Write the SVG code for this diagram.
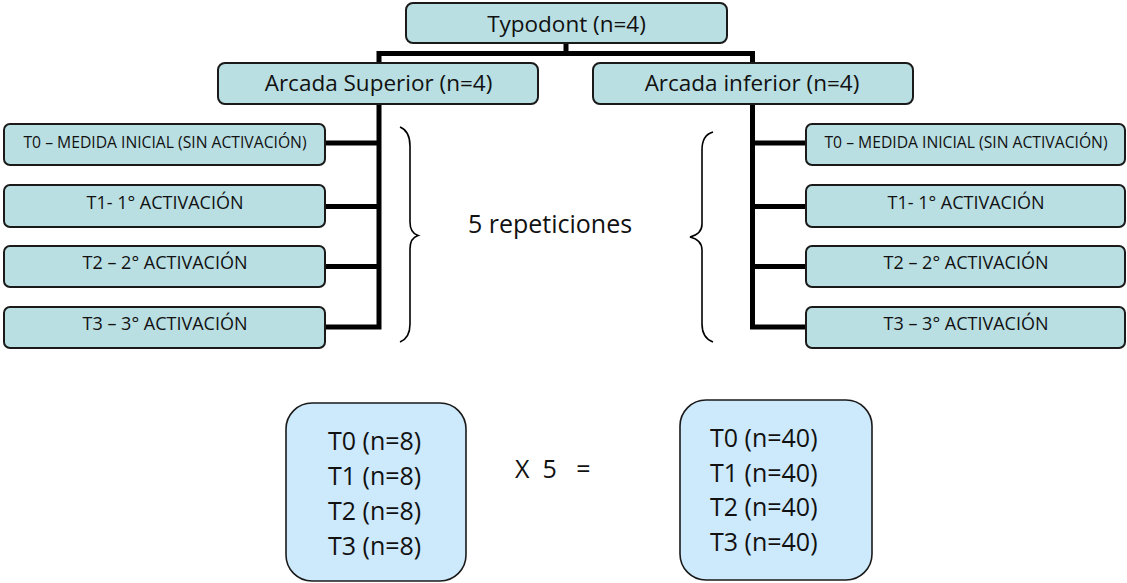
<svg xmlns="http://www.w3.org/2000/svg" width="1127" height="583" viewBox="0 0 1127 583">
<style>
  text { font-family: 'Open Sans', 'Liberation Sans', sans-serif; fill: #111; }
  .box { fill: #b9dfe3; stroke: #1a1a1a; stroke-width: 2; }
  .big { fill: #cde9fc; stroke: #1a1a1a; stroke-width: 1.6; }
  .t22 { font-size: 22.5px; text-anchor: middle; }
  .t18 { font-size: 18px; text-anchor: middle; }
  .t16 { font-size: 15.7px; text-anchor: middle; }
  .t25 { font-size: 25px; }
  .conn { stroke: #000; stroke-width: 5; fill: none; stroke-linejoin: miter; stroke-linecap: square; }
  .brace { stroke: #000; stroke-width: 1.6; fill: none; }
</style>
<rect width="1127" height="583" fill="#fff"/>

<g id="connectors">
  <path class="conn" d="M566,44 V53.5 M379,62 V53.5 H752.5 V62"/>
  <path class="conn" d="M379,105 V327 M327,143 H379 M327,206.5 H379 M327,266.5 H379 M327,327 H379"/>
  <path class="conn" d="M752.5,105 V327 M752.5,143 H804 M752.5,206.5 H804 M752.5,266.5 H804 M752.5,327 H804"/>
</g>

<g id="typodont">
  <rect class="box" x="406" y="3" width="321" height="40" rx="7"/>
  <text class="t22" x="566.5" y="32">Typodont (n=4)</text>
</g>
<g id="arcada-superior">
  <rect class="box" x="218" y="63" width="320" height="41" rx="7"/>
  <text class="t22" x="378.5" y="91">Arcada Superior (n=4)</text>
</g>
<g id="arcada-inferior">
  <rect class="box" x="593" y="63" width="320" height="41" rx="7"/>
  <text class="t22" x="752" y="91">Arcada inferior (n=4)</text>
</g>

<g id="sup-t0">
  <rect class="box" x="4" y="124" width="321" height="41" rx="6"/>
  <text class="t16" x="165" y="147.5">T0 – MEDIDA INICIAL (SIN ACTIVACIÓN)</text>
</g>
<g id="sup-t1">
  <rect class="box" x="4" y="185" width="321" height="42" rx="6"/>
  <text class="t18" x="165" y="208.5">T1- 1° ACTIVACIÓN</text>
</g>
<g id="sup-t2">
  <rect class="box" x="4" y="246" width="321" height="41" rx="6"/>
  <text class="t18" x="165" y="268.5">T2 – 2° ACTIVACIÓN</text>
</g>
<g id="sup-t3">
  <rect class="box" x="4" y="307" width="321" height="41" rx="6"/>
  <text class="t18" x="165" y="329.5">T3 – 3° ACTIVACIÓN</text>
</g>

<g id="inf-t0">
  <rect class="box" x="806" y="124" width="319" height="41" rx="6"/>
  <text class="t16" x="966" y="147.5">T0 – MEDIDA INICIAL (SIN ACTIVACIÓN)</text>
</g>
<g id="inf-t1">
  <rect class="box" x="806" y="185" width="319" height="42" rx="6"/>
  <text class="t18" x="966" y="208.5">T1- 1° ACTIVACIÓN</text>
</g>
<g id="inf-t2">
  <rect class="box" x="806" y="246" width="319" height="41" rx="6"/>
  <text class="t18" x="966" y="268.5">T2 – 2° ACTIVACIÓN</text>
</g>
<g id="inf-t3">
  <rect class="box" x="806" y="307" width="319" height="41" rx="6"/>
  <text class="t18" x="966" y="329.5">T3 – 3° ACTIVACIÓN</text>
</g>

<g id="braces">
  <path class="brace" d="M400,127 Q410,131 410,146 V222 Q410,233 418,235.5 Q410,238 410,249 V324 Q410,338 400,342"/>
  <path class="brace" d="M713,132 Q702,135 702,150 V224 Q702,234 690,237 Q702,240 702,250 V324 Q702,338 713,342"/>
</g>

<g id="repeticiones">
  <text class="t25" x="550" y="233" text-anchor="middle">5 repeticiones</text>
</g>

<g id="total-antes">
  <rect class="big" x="286" y="403" width="180" height="178" rx="26"/>
  <text class="t25" x="328" y="450">T0 (n=8)</text>
  <text class="t25" x="328" y="485">T1 (n=8)</text>
  <text class="t25" x="328" y="520">T2 (n=8)</text>
  <text class="t25" x="328" y="555">T3 (n=8)</text>
</g>

<g id="multiplicador">
  <text class="t25" x="515" y="478" xml:space="preserve">X  5   =</text>
</g>

<g id="total-final">
  <rect class="big" x="680" y="400" width="192" height="180" rx="26"/>
  <text class="t25" x="710" y="447">T0 (n=40)</text>
  <text class="t25" x="710" y="481.5">T1 (n=40)</text>
  <text class="t25" x="710" y="516">T2 (n=40)</text>
  <text class="t25" x="710" y="550.5">T3 (n=40)</text>
</g>
</svg>
